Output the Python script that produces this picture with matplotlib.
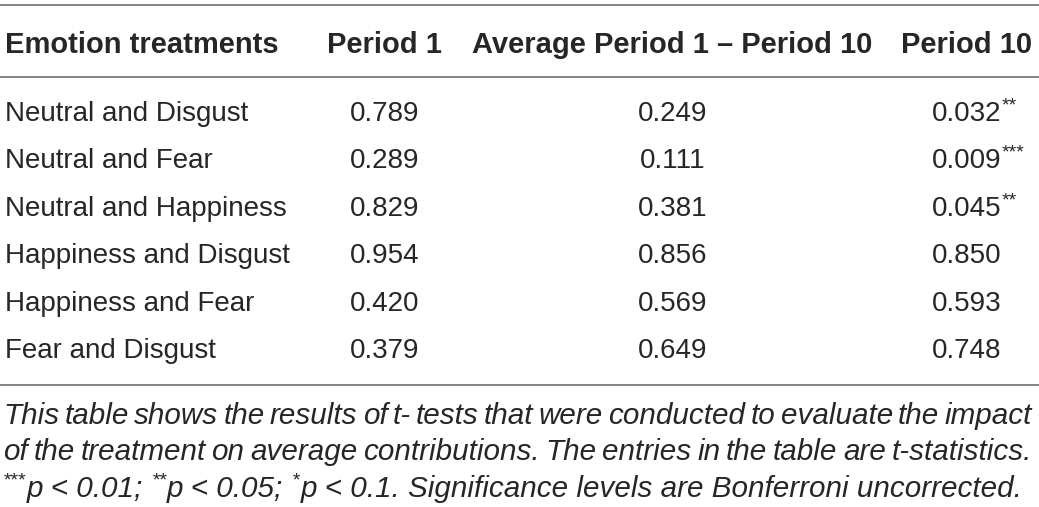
import matplotlib
matplotlib.use("Agg")
import matplotlib.pyplot as plt

# table content
header = ["Emotion treatments", "Period 1", "Average Period 1 \u2013 Period 10", "Period 10"]
treatments = ["Neutral and Disgust", "Neutral and Fear", "Neutral and Happiness",
              "Happiness and Disgust", "Happiness and Fear", "Fear and Disgust"]
period1 = ["0.789", "0.289", "0.829", "0.954", "0.420", "0.379"]
average = ["0.249", "0.111", "0.381", "0.856", "0.569", "0.649"]
period10 = ["0.032", "0.009", "0.045", "0.850", "0.593", "0.748"]
stars10 = ["**", "***", "**", "", "", ""]
note_lines = [
    "This table shows the results of t- tests that were conducted to evaluate the impact",
    "of the treatment on average contributions. The entries in the table are t-statistics.",
]
note_last = [("***", True), ("p < 0.01; ", False), ("**", True), ("p < 0.05; ", False),
             ("*", True), ("p < 0.1. Significance levels are Bonferroni uncorrected.", False)]

W, H = 1039, 507
fig = plt.figure(figsize=(W / 100, H / 100), dpi=100)
ax = fig.add_axes([0, 0, 1, 1])
ax.set_xlim(0, W)
ax.set_ylim(H, 0)
ax.axis("off")

FONT = "Liberation Sans"
TXT = "#262626"
LINE = "#7a7a7a"
fs = 20
hfs = 21

# rules
for y in (5, 77, 385):
    ax.plot([0, W], [y, y], color=LINE, lw=1.3, solid_capstyle="butt")

# header
hy = 42
ax.text(5, hy, header[0], fontsize=hfs, fontweight="bold", family=FONT, color=TXT, va="center_baseline", ha="left")
ax.text(384, hy, header[1], fontsize=hfs, fontweight="bold", family=FONT, color=TXT, va="center_baseline", ha="center")
ax.text(672, hy, header[2], fontsize=hfs, fontweight="bold", family=FONT, color=TXT, va="center_baseline", ha="center")
ax.text(967, hy, header[3], fontsize=hfs, fontweight="bold", family=FONT, color=TXT, va="center_baseline", ha="center")

fig.canvas.draw()
renderer = fig.canvas.get_renderer()
inv = ax.transData.inverted()


def right_edge(t):
    bb = t.get_window_extent(renderer)
    return inv.transform((bb.x1, bb.y0))[0]


y0, step = 111, 47.4
for i, name in enumerate(treatments):
    y = y0 + i * step
    ax.text(5, y, name, fontsize=fs, family=FONT, color=TXT, va="center_baseline", ha="left")
    ax.text(385, y, period1[i], fontsize=fs, family=FONT, color=TXT, va="center_baseline", ha="center")
    ax.text(673, y, average[i], fontsize=fs, family=FONT, color=TXT, va="center_baseline", ha="center")
    t = ax.text(932, y, period10[i], fontsize=fs, family=FONT, color=TXT, va="center_baseline", ha="left")
    if stars10[i]:
        x = right_edge(t)
        ax.text(x, y - 7, stars10[i], fontsize=14, family=FONT, color=TXT, va="center_baseline", ha="left")

# footnote, justified
nfs = 21.3
for k, line in enumerate(note_lines):
    y = 413 + k * 36.5
    words = line.split(" ")
    widths = []
    for w in words:
        t = ax.text(0, y, w, fontsize=nfs, family=FONT, style="italic")
        bb = t.get_window_extent(renderer)
        widths.append(bb.width)
        t.remove()
    left, right = 3, 1032
    gap = (right - left - sum(widths)) / (len(words) - 1)
    x = left
    for w, wd in zip(words, widths):
        ax.text(x, y, w, fontsize=nfs, family=FONT, style="italic", color=TXT, va="center_baseline", ha="left")
        x += wd + gap

y = 413 + 2 * 36.5
x = 3
for piece, sup in note_last:
    if sup:
        t = ax.text(x, y - 7, piece, fontsize=14, family=FONT, style="italic", color=TXT, va="center_baseline", ha="left")
    else:
        t = ax.text(x, y, piece, fontsize=nfs, family=FONT, style="italic", color=TXT, va="center_baseline", ha="left")
    x = right_edge(t) + 0.5

fig.savefig("out.png", dpi=100)
